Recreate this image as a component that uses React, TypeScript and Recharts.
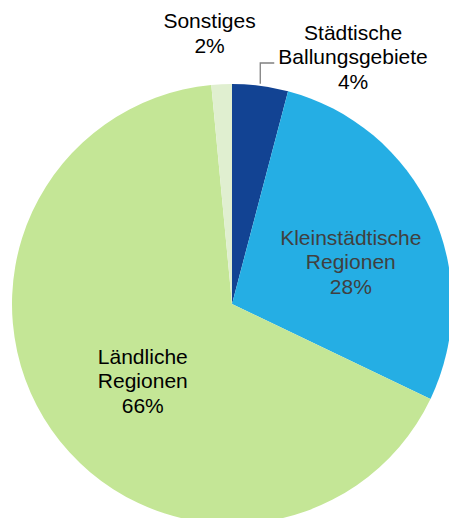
import { Cell, Pie, PieChart } from 'recharts';

const names = ['Städtische Ballungsgebiete', 'Kleinstädtische Regionen', 'Ländliche Regionen', 'Sonstiges'];
const labelLines = [
  ['Städtische', 'Ballungsgebiete'],
  ['Kleinstädtische', 'Regionen'],
  ['Ländliche', 'Regionen'],
  ['Sonstiges'],
];
const shares = [4.1, 28.0, 66.4, 1.5];
const colors = ['#124393', '#25aee4', '#c4e696', '#e0efd0'];

const data = names.map((name, i) => ({ name, value: shares[i] }));

// label placement: radius factor from the center, then a nudge
const placement = [
  { r: 1.1, dx: 90, dy: 0, fill: '#000', leader: true },
  { r: 0.55, dx: 9, dy: 16, fill: '#404040', leader: false },
  { r: 0.55, dx: 10, dy: 15, fill: '#000', leader: false },
  { r: 1.2, dx: -10, dy: 0, fill: '#000', leader: false },
];

const RADIAN = Math.PI / 180;
const LINE_H = 24.5;

const renderLabel = (props: any) => {
  const { cx, cy, midAngle, outerRadius, index, value } = props;
  const p = placement[index];
  const cos = Math.cos(-midAngle * RADIAN);
  const sin = Math.sin(-midAngle * RADIAN);
  const x = cx + outerRadius * p.r * cos + p.dx;
  const y = cy + outerRadius * p.r * sin + p.dy;
  const lines = [...labelLines[index], `${Math.round(value)}%`];
  const firstY = y - ((lines.length - 1) / 2) * LINE_H;
  let leader = null;
  if (p.leader) {
    const sx = cx + outerRadius * cos;
    const sy = cy + outerRadius * sin;
    leader = (
      <polyline
        points={`${sx},${sy - 2} ${sx},${firstY + LINE_H - 1} ${sx + 14},${firstY + LINE_H - 1}`}
        fill="none"
        stroke="#808080"
        strokeWidth={1.3}
      />
    );
  }
  return (
    <g>
      {leader}
      <text
        x={x}
        y={firstY}
        textAnchor="middle"
        fill={p.fill}
        fontSize={21}
        fontFamily="'Liberation Sans', Arial, sans-serif"
      >
        {lines.map((l, i) => (
          <tspan key={i} x={x} y={firstY + i * LINE_H}>
            {l}
          </tspan>
        ))}
      </text>
    </g>
  );
};

export default function App() {
  return (
    <div style={{ position: 'absolute', left: 0, top: 0, background: '#fff' }}>
      <PieChart width={449} height={518} margin={{ top: 0, right: 0, bottom: 0, left: 0 }}>
        <Pie
          data={data}
          dataKey="value"
          nameKey="name"
          cx={232}
          cy={304}
          outerRadius={220}
          startAngle={90}
          endAngle={-270}
          stroke="none"
          label={renderLabel}
          labelLine={false}
          isAnimationActive={false}
        >
          {data.map((d, i) => (
            <Cell key={d.name} fill={colors[i]} />
          ))}
        </Pie>
      </PieChart>
    </div>
  );
}
